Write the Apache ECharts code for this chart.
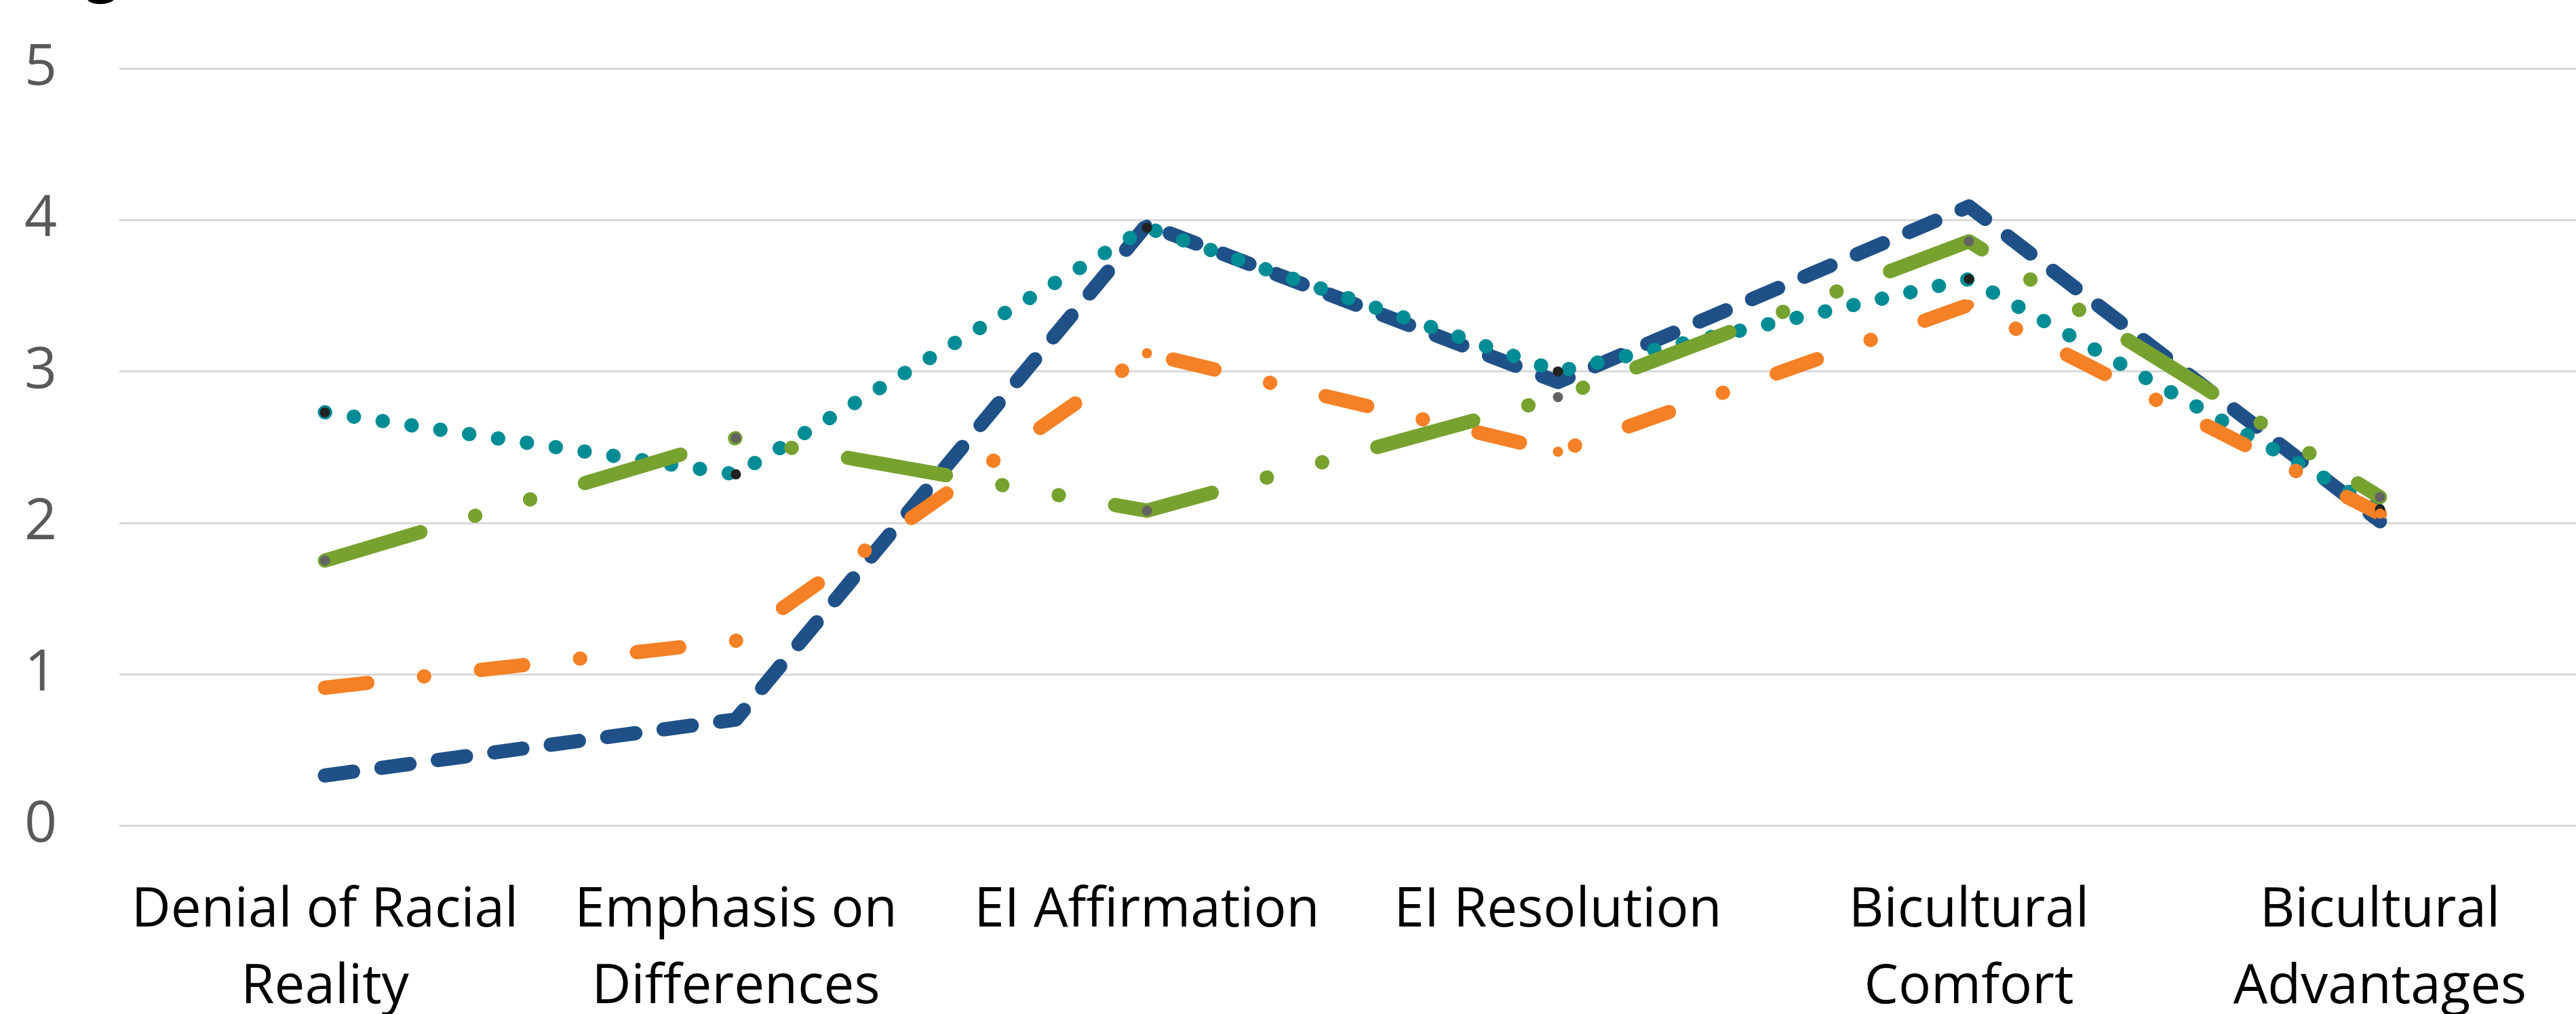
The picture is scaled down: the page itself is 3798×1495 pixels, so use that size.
<!DOCTYPE html>
<html>
<head>
<meta charset="utf-8">
<script src="https://cdn.jsdelivr.net/npm/echarts@6/dist/echarts.min.js"></script>
<style>
html,body{margin:0;padding:0;background:#fff;}
#chart{width:3798px;height:1495px;}
</style>
</head>
<body>
<div id="chart"></div>
<script>
const categories = ['Denial of Racial\nReality', 'Emphasis on\nDifferences', 'EI Affirmation', 'EI Resolution', 'Bicultural\nComfort', 'Bicultural\nAdvantages'];
const yTicks = [0, 1, 2, 3, 4, 5];
const blueValues   = [0.33, 0.70, 3.97, 2.93, 4.09, 2.01];
const orangeValues = [0.91, 1.22, 3.12, 2.47, 3.44, 2.06];
const greenValues  = [1.75, 2.56, 2.08, 2.83, 3.86, 2.17];
const tealValues   = [2.73, 2.32, 3.95, 3.00, 3.61, 2.09];

const W = 21;
const C = {blue:'#1F5188', orange:'#F58025', green:'#77A22F', teal:'#008C95', black:'#222222', gray:'#636363'};

function lineSeries(name, data, color, dash, z) {
  return {
    name, type:'line', data, z, showSymbol:false, symbol:'none',
    lineStyle:{color, width:W, type:dash, cap:'round', join:'round'},
    emphasis:{disabled:true}, silent:true
  };
}
function markerSeries(name, data, color, z) {
  return {
    name, type:'scatter', data, z, symbol:'circle', symbolSize:15,
    itemStyle:{color, opacity:1}, emphasis:{disabled:true}, silent:true
  };
}

const chart = echarts.init(document.getElementById('chart'), null, {renderer:'canvas'});
chart.setOption({
  animation:false,
  backgroundColor:'#ffffff',
  graphic:[{
    type:'text', left:55, top:-80, silent:true,
    style:{text:'Figure', font:'bold 84px "Open Sans"', fill:'#000'}
  }],
  grid:{left:176, top:101.4, width:3636, height:1115.6, containLabel:false, outerBoundsMode:'none'},
  xAxis:{
    type:'category', data:categories, boundaryGap:true,
    axisLine:{show:false}, axisTick:{show:false},
    axisLabel:{interval:0, color:'#000', fontFamily:'Open Sans', fontSize:80, lineHeight:113, margin:70}
  },
  yAxis:{
    type:'value', min:yTicks[0], max:yTicks[yTicks.length-1], interval:1,
    axisLine:{show:false}, axisTick:{show:false},
    splitLine:{lineStyle:{color:'#D9D9D9', width:3}},
    axisLabel:{color:'#595959', fontFamily:'Open Sans', fontSize:84, margin:92}
  },
  series:[
    lineSeries('Profile A', blueValues, C.blue, [42, 42], 2),
    lineSeries('Profile D', tealValues, C.teal, [0.5, 42.5], 3),
    lineSeries('Profile B', orangeValues, C.orange, [63, 84, 0.5, 84], 4),
    lineSeries('Profile C', greenValues, C.green, [147, 84, 0.5, 84, 0.5, 84], 5),
    markerSeries('Profile A markers', blueValues, C.blue, 10),
    markerSeries('Profile C markers', greenValues, C.gray, 11),
    markerSeries('Profile D markers', tealValues, C.black, 12),
    markerSeries('Profile B markers', orangeValues, C.orange, 13)
  ]
});
</script>
</body>
</html>
